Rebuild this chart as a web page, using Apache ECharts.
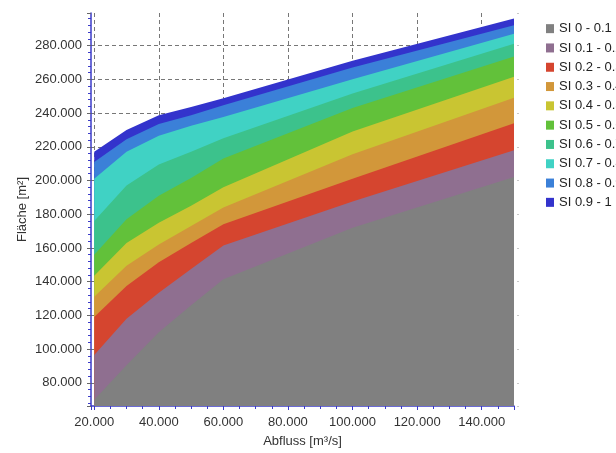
<!DOCTYPE html>
<html>
<head>
<meta charset="utf-8">
<script src="https://cdn.jsdelivr.net/npm/echarts@6/dist/echarts.min.js"></script>
<style>
html,body{margin:0;padding:0;background:#fff;}
#chart{width:616px;height:453px;}
</style>
</head>
<body>
<div id="chart"></div>
<script>
// Abfluss values (m³/s) at which the band boundaries are read
const abfluss = [20000, 30000, 40000, 50000, 60000, 100000, 150000];

// Upper boundary (Fläche, m²) of each SI band
const upper_SI_0_01   = [70000, 90500, 110000, 126000, 141500, 172000, 202000];
const upper_SI_01_02  = [96500, 118000, 133500, 147500, 161500, 187500, 218000];
const upper_SI_02_03  = [119000, 137500, 151500, 163000, 174000, 201000, 234000];
const upper_SI_03_04  = [131000, 149500, 162000, 173000, 184000, 215500, 249000];
const upper_SI_04_05  = [143500, 163000, 175000, 185000, 196000, 229000, 261500];
const upper_SI_05_06  = [156000, 177000, 191000, 201500, 213000, 243000, 273500];
const upper_SI_06_07  = [176000, 197000, 209500, 217000, 225000, 251500, 281000];
const upper_SI_07_08  = [201000, 217000, 226500, 232500, 237600, 260000, 287000];
const upper_SI_08_09  = [211000, 224400, 233500, 238700, 244600, 267000, 292000];
const upper_SI_09_1   = [217000, 230000, 238700, 243600, 248800, 271000, 296000];

const bandNames = ['SI 0 - 0.1','SI 0.1 - 0.2','SI 0.2 - 0.3','SI 0.3 - 0.4','SI 0.4 - 0.5',
                   'SI 0.5 - 0.6','SI 0.6 - 0.7','SI 0.7 - 0.8','SI 0.8 - 0.9','SI 0.9 - 1'];
const bandUppers = [upper_SI_0_01, upper_SI_01_02, upper_SI_02_03, upper_SI_03_04, upper_SI_04_05,
                    upper_SI_05_06, upper_SI_06_07, upper_SI_07_08, upper_SI_08_09, upper_SI_09_1];
const bandColors = ['#808080','#8f6f90','#d5452f','#d2973a','#c9c532',
                    '#62c13a','#3cc28c','#40d2c4','#3b80d8','#3333cc'];

function fmt(v){
  const s = Math.round(v).toString();
  return s.replace(/\B(?=(\d{3})+(?!\d))/g, '.');
}

const series = [];
for (let i = bandNames.length - 1; i >= 0; i--) {
  series.push({
    name: bandNames[i],
    type: 'line',
    data: abfluss.map((x, j) => [x, bandUppers[i][j]]),
    showSymbol: false,
    symbol: 'none',
    lineStyle: { width: 0 },
    itemStyle: { color: bandColors[i] },
    areaStyle: { color: bandColors[i], opacity: 1, origin: 'start' },
    silent: true
  });
}

const axisBlue = '#3b3bc8';
const chart = echarts.init(document.getElementById('chart'), null, { renderer: 'canvas' });
chart.setOption({
  animation: false,
  backgroundColor: '#ffffff',
  textStyle: { fontFamily: 'Liberation Sans, Arial, sans-serif' },
  grid: { left: 91, top: 13, right: 102, bottom: 46, containLabel: false },
  legend: {
    orient: 'vertical',
    left: 541,
    top: 14,
    icon: 'rect',
    itemWidth: 8,
    itemHeight: 9,
    itemGap: 0,
    data: bandNames,
    textStyle: { fontSize: 13, color: '#222', lineHeight: 19.3, fontFamily: 'Liberation Sans, Arial, sans-serif' },
    selectedMode: false
  },
  xAxis: {
    type: 'value',
    min: 19000,
    max: 150000,
    minInterval: 20000,
    maxInterval: 20000,
    name: 'Abfluss [m³/s]',
    nameLocation: 'middle',
    nameGap: 29,
    nameTextStyle: { fontSize: 13, color: '#333' },
    axisLine: { show: true, onZero: false, lineStyle: { color: axisBlue, width: 1.5 } },
    axisTick: { show: true, length: 4, lineStyle: { color: axisBlue } },
    minorTick: { show: true, splitNumber: 4, length: 3, lineStyle: { color: axisBlue } },
    axisLabel: { fontSize: 13, color: '#333', margin: 10, showMinLabel: false, showMaxLabel: false, formatter: fmt },
    splitLine: { show: true, showMinLine: false, showMaxLine: false, lineStyle: { color: '#777', type: [4, 3], width: 1 } }
  },
  yAxis: [{
    type: 'value',
    min: 66300,
    max: 299300,
    minInterval: 20000,
    maxInterval: 20000,
    name: 'Fläche [m²]',
    nameLocation: 'middle',
    nameGap: 62,
    nameMoveOverlap: false,
    nameTextStyle: { fontSize: 13, color: '#333' },
    axisLine: { show: true, onZero: false, lineStyle: { color: axisBlue, width: 1.5 } },
    axisTick: { show: true, length: 4, lineStyle: { color: '#666' } },
    minorTick: { show: true, splitNumber: 5, length: 3, lineStyle: { color: axisBlue } },
    axisLabel: { fontSize: 13, color: '#333', margin: 9, showMinLabel: false, showMaxLabel: false, formatter: fmt },
    splitLine: { show: true, showMinLine: false, showMaxLine: false, lineStyle: { color: '#777', type: [4, 3], width: 1 } }
  }, {
    type: 'value',
    position: 'right',
    min: 66300,
    max: 299300,
    minInterval: 20000,
    maxInterval: 20000,
    offset: 3,
    axisLine: { show: false },
    axisTick: { show: true, length: 2, lineStyle: { color: '#c8c8c8' } },
    axisLabel: { show: false },
    splitLine: { show: false }
  }],
  series: series
});
</script>
</body>
</html>
